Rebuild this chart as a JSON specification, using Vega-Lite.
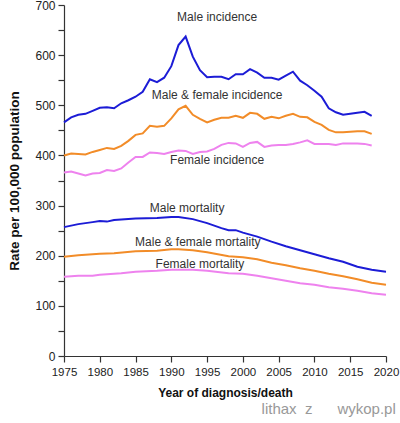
{
  "$schema": "https://vega.github.io/schema/vega-lite/v6.json",
  "autosize": {"type": "none"},
  "width": 322,
  "height": 351,
  "padding": {"left": 64, "top": 5, "right": 14, "bottom": 67},
  "background": "white",
  "config": {
    "view": {"stroke": null},
    "font": "Liberation Sans",
    "axis": {"grid": false, "domainColor": "#333", "tickColor": "#333", "labelColor": "#222", "titleColor": "#111", "labelFont": "Liberation Sans", "titleFont": "Liberation Sans", "labelFontSize": 12, "titleFontSize": 13, "titleFontWeight": "bold", "tickSize": 6, "domainWidth": 1.2, "tickWidth": 1.2, "labelOverlap": false}
  },
  "title": {"text": "lithax\u00a0\u00a0z\u00a0\u00a0\u00a0\u00a0\u00a0\u00a0wykop.pl", "orient": "bottom", "anchor": "end", "color": "#999", "fontSize": 15, "font": "Liberation Sans", "fontWeight": "normal", "offset": 3, "baseline": "top", "dx": -3},
  "datasets": {
    "lines": [
      {"s": "mi", "year": 1975, "v": 466}, {"s": "mi", "year": 1976, "v": 476}, {"s": "mi", "year": 1977, "v": 481}, {"s": "mi", "year": 1978, "v": 483}, {"s": "mi", "year": 1979, "v": 489}, {"s": "mi", "year": 1980, "v": 495}, {"s": "mi", "year": 1981, "v": 496}, {"s": "mi", "year": 1982, "v": 494}, {"s": "mi", "year": 1983, "v": 504}, {"s": "mi", "year": 1984, "v": 510}, {"s": "mi", "year": 1985, "v": 517}, {"s": "mi", "year": 1986, "v": 527}, {"s": "mi", "year": 1987, "v": 552}, {"s": "mi", "year": 1988, "v": 546}, {"s": "mi", "year": 1989, "v": 555}, {"s": "mi", "year": 1990, "v": 578}, {"s": "mi", "year": 1991, "v": 620}, {"s": "mi", "year": 1992, "v": 637}, {"s": "mi", "year": 1993, "v": 597}, {"s": "mi", "year": 1994, "v": 570}, {"s": "mi", "year": 1995, "v": 556}, {"s": "mi", "year": 1996, "v": 557}, {"s": "mi", "year": 1997, "v": 557}, {"s": "mi", "year": 1998, "v": 552}, {"s": "mi", "year": 1999, "v": 562}, {"s": "mi", "year": 2000, "v": 562}, {"s": "mi", "year": 2001, "v": 572}, {"s": "mi", "year": 2002, "v": 565}, {"s": "mi", "year": 2003, "v": 555}, {"s": "mi", "year": 2004, "v": 555}, {"s": "mi", "year": 2005, "v": 551}, {"s": "mi", "year": 2006, "v": 559}, {"s": "mi", "year": 2007, "v": 567}, {"s": "mi", "year": 2008, "v": 549}, {"s": "mi", "year": 2009, "v": 540}, {"s": "mi", "year": 2010, "v": 529}, {"s": "mi", "year": 2011, "v": 517}, {"s": "mi", "year": 2012, "v": 494}, {"s": "mi", "year": 2013, "v": 486}, {"s": "mi", "year": 2014, "v": 481}, {"s": "mi", "year": 2015, "v": 483}, {"s": "mi", "year": 2016, "v": 485}, {"s": "mi", "year": 2017, "v": 487}, {"s": "mi", "year": 2018, "v": 479},
      {"s": "ai", "year": 1975, "v": 400}, {"s": "ai", "year": 1976, "v": 404}, {"s": "ai", "year": 1977, "v": 403}, {"s": "ai", "year": 1978, "v": 402}, {"s": "ai", "year": 1979, "v": 407}, {"s": "ai", "year": 1980, "v": 411}, {"s": "ai", "year": 1981, "v": 415}, {"s": "ai", "year": 1982, "v": 413}, {"s": "ai", "year": 1983, "v": 419}, {"s": "ai", "year": 1984, "v": 429}, {"s": "ai", "year": 1985, "v": 441}, {"s": "ai", "year": 1986, "v": 444}, {"s": "ai", "year": 1987, "v": 459}, {"s": "ai", "year": 1988, "v": 457}, {"s": "ai", "year": 1989, "v": 459}, {"s": "ai", "year": 1990, "v": 474}, {"s": "ai", "year": 1991, "v": 492}, {"s": "ai", "year": 1992, "v": 499}, {"s": "ai", "year": 1993, "v": 481}, {"s": "ai", "year": 1994, "v": 473}, {"s": "ai", "year": 1995, "v": 466}, {"s": "ai", "year": 1996, "v": 471}, {"s": "ai", "year": 1997, "v": 475}, {"s": "ai", "year": 1998, "v": 475}, {"s": "ai", "year": 1999, "v": 479}, {"s": "ai", "year": 2000, "v": 475}, {"s": "ai", "year": 2001, "v": 485}, {"s": "ai", "year": 2002, "v": 483}, {"s": "ai", "year": 2003, "v": 473}, {"s": "ai", "year": 2004, "v": 477}, {"s": "ai", "year": 2005, "v": 474}, {"s": "ai", "year": 2006, "v": 479}, {"s": "ai", "year": 2007, "v": 483}, {"s": "ai", "year": 2008, "v": 477}, {"s": "ai", "year": 2009, "v": 476}, {"s": "ai", "year": 2010, "v": 467}, {"s": "ai", "year": 2011, "v": 461}, {"s": "ai", "year": 2012, "v": 451}, {"s": "ai", "year": 2013, "v": 446}, {"s": "ai", "year": 2014, "v": 446}, {"s": "ai", "year": 2015, "v": 447}, {"s": "ai", "year": 2016, "v": 448}, {"s": "ai", "year": 2017, "v": 448}, {"s": "ai", "year": 2018, "v": 443},
      {"s": "fi", "year": 1975, "v": 366}, {"s": "fi", "year": 1976, "v": 368}, {"s": "fi", "year": 1977, "v": 364}, {"s": "fi", "year": 1978, "v": 360}, {"s": "fi", "year": 1979, "v": 364}, {"s": "fi", "year": 1980, "v": 365}, {"s": "fi", "year": 1981, "v": 371}, {"s": "fi", "year": 1982, "v": 369}, {"s": "fi", "year": 1983, "v": 374}, {"s": "fi", "year": 1984, "v": 386}, {"s": "fi", "year": 1985, "v": 397}, {"s": "fi", "year": 1986, "v": 397}, {"s": "fi", "year": 1987, "v": 406}, {"s": "fi", "year": 1988, "v": 405}, {"s": "fi", "year": 1989, "v": 403}, {"s": "fi", "year": 1990, "v": 407}, {"s": "fi", "year": 1991, "v": 410}, {"s": "fi", "year": 1992, "v": 409}, {"s": "fi", "year": 1993, "v": 403}, {"s": "fi", "year": 1994, "v": 407}, {"s": "fi", "year": 1995, "v": 408}, {"s": "fi", "year": 1996, "v": 413}, {"s": "fi", "year": 1997, "v": 421}, {"s": "fi", "year": 1998, "v": 425}, {"s": "fi", "year": 1999, "v": 424}, {"s": "fi", "year": 2000, "v": 417}, {"s": "fi", "year": 2001, "v": 425}, {"s": "fi", "year": 2002, "v": 427}, {"s": "fi", "year": 2003, "v": 417}, {"s": "fi", "year": 2004, "v": 420}, {"s": "fi", "year": 2005, "v": 421}, {"s": "fi", "year": 2006, "v": 421}, {"s": "fi", "year": 2007, "v": 423}, {"s": "fi", "year": 2008, "v": 426}, {"s": "fi", "year": 2009, "v": 430}, {"s": "fi", "year": 2010, "v": 423}, {"s": "fi", "year": 2011, "v": 423}, {"s": "fi", "year": 2012, "v": 423}, {"s": "fi", "year": 2013, "v": 421}, {"s": "fi", "year": 2014, "v": 424}, {"s": "fi", "year": 2015, "v": 424}, {"s": "fi", "year": 2016, "v": 424}, {"s": "fi", "year": 2017, "v": 423}, {"s": "fi", "year": 2018, "v": 420},
      {"s": "mm", "year": 1975, "v": 257}, {"s": "mm", "year": 1977, "v": 263}, {"s": "mm", "year": 1979, "v": 267}, {"s": "mm", "year": 1980, "v": 269}, {"s": "mm", "year": 1981, "v": 268}, {"s": "mm", "year": 1982, "v": 271}, {"s": "mm", "year": 1985, "v": 274}, {"s": "mm", "year": 1988, "v": 275}, {"s": "mm", "year": 1990, "v": 277}, {"s": "mm", "year": 1991, "v": 277}, {"s": "mm", "year": 1993, "v": 273}, {"s": "mm", "year": 1995, "v": 265}, {"s": "mm", "year": 1997, "v": 255}, {"s": "mm", "year": 1998, "v": 251}, {"s": "mm", "year": 1999, "v": 251}, {"s": "mm", "year": 2000, "v": 246}, {"s": "mm", "year": 2002, "v": 238}, {"s": "mm", "year": 2004, "v": 228}, {"s": "mm", "year": 2006, "v": 219}, {"s": "mm", "year": 2008, "v": 211}, {"s": "mm", "year": 2010, "v": 203}, {"s": "mm", "year": 2012, "v": 195}, {"s": "mm", "year": 2014, "v": 188}, {"s": "mm", "year": 2016, "v": 178}, {"s": "mm", "year": 2018, "v": 172}, {"s": "mm", "year": 2020, "v": 168},
      {"s": "am", "year": 1975, "v": 198}, {"s": "am", "year": 1977, "v": 201}, {"s": "am", "year": 1980, "v": 204}, {"s": "am", "year": 1982, "v": 205}, {"s": "am", "year": 1985, "v": 209}, {"s": "am", "year": 1988, "v": 210}, {"s": "am", "year": 1990, "v": 213}, {"s": "am", "year": 1991, "v": 213}, {"s": "am", "year": 1993, "v": 211}, {"s": "am", "year": 1995, "v": 207}, {"s": "am", "year": 1998, "v": 199}, {"s": "am", "year": 2000, "v": 197}, {"s": "am", "year": 2002, "v": 193}, {"s": "am", "year": 2004, "v": 186}, {"s": "am", "year": 2006, "v": 181}, {"s": "am", "year": 2008, "v": 175}, {"s": "am", "year": 2010, "v": 170}, {"s": "am", "year": 2012, "v": 164}, {"s": "am", "year": 2014, "v": 159}, {"s": "am", "year": 2016, "v": 153}, {"s": "am", "year": 2018, "v": 146}, {"s": "am", "year": 2020, "v": 142},
      {"s": "fm", "year": 1975, "v": 158}, {"s": "fm", "year": 1977, "v": 160}, {"s": "fm", "year": 1979, "v": 160}, {"s": "fm", "year": 1980, "v": 162}, {"s": "fm", "year": 1983, "v": 165}, {"s": "fm", "year": 1985, "v": 168}, {"s": "fm", "year": 1988, "v": 170}, {"s": "fm", "year": 1990, "v": 172}, {"s": "fm", "year": 1993, "v": 172}, {"s": "fm", "year": 1995, "v": 170}, {"s": "fm", "year": 1998, "v": 165}, {"s": "fm", "year": 2000, "v": 164}, {"s": "fm", "year": 2002, "v": 160}, {"s": "fm", "year": 2004, "v": 155}, {"s": "fm", "year": 2006, "v": 150}, {"s": "fm", "year": 2008, "v": 145}, {"s": "fm", "year": 2010, "v": 142}, {"s": "fm", "year": 2012, "v": 137}, {"s": "fm", "year": 2014, "v": 134}, {"s": "fm", "year": 2016, "v": 130}, {"s": "fm", "year": 2018, "v": 125}, {"s": "fm", "year": 2020, "v": 122}
    ],
    "labels": [
      {"t": "Male incidence", "year": 1996.4, "v": 676},
      {"t": "Male & female incidence", "year": 1996.4, "v": 521},
      {"t": "Female incidence", "year": 1996.4, "v": 391},
      {"t": "Male mortality", "year": 1992.2, "v": 295},
      {"t": "Male & female mortality", "year": 1993.7, "v": 227},
      {"t": "Female mortality", "year": 1994, "v": 183}
    ]
  },
  "encoding": {
    "x": {"field": "year", "type": "quantitative", "scale": {"domain": [1975, 2020], "nice": false, "zero": false}, "axis": {"values": [1975, 1980, 1985, 1990, 1995, 2000, 2005, 2010, 2015, 2020], "format": "d", "title": "Year of diagnosis/death", "titleFontSize": 12, "labelPadding": 4, "titlePadding": 10, "labelFlush": false, "labelOverlap": false, "labelFontSize": 11.5}},
    "y": {"field": "v", "type": "quantitative", "scale": {"domain": [0, 700], "nice": false}, "axis": {"values": [0, 50, 100, 150, 200, 250, 300, 350, 400, 450, 500, 550, 600, 650, 700], "labelExpr": "datum.value % 100 == 0 ? datum.label : ''", "title": "Rate per 100,000 population", "titleFontSize": 13.5, "labelPadding": 3, "titlePadding": 13, "labelFlush": false, "labelOverlap": false}}
  },
  "layer": [
    {
      "data": {"name": "lines"},
      "mark": {"type": "line", "strokeWidth": 2},
      "encoding": {
        "color": {"field": "s", "type": "nominal", "scale": {"domain": ["mi", "ai", "fi", "mm", "am", "fm"], "range": ["#1c1cd6", "#f28c28", "#ee82ee", "#1c1cd6", "#f28c28", "#ee82ee"]}, "legend": null},
        "detail": {"field": "s"}
      }
    },
    {
      "data": {"name": "labels"},
      "mark": {"type": "text", "fontSize": 12, "color": "#333", "font": "Liberation Sans", "align": "center", "baseline": "middle"},
      "encoding": {
        "text": {"field": "t"}
      }
    }
  ]
}
